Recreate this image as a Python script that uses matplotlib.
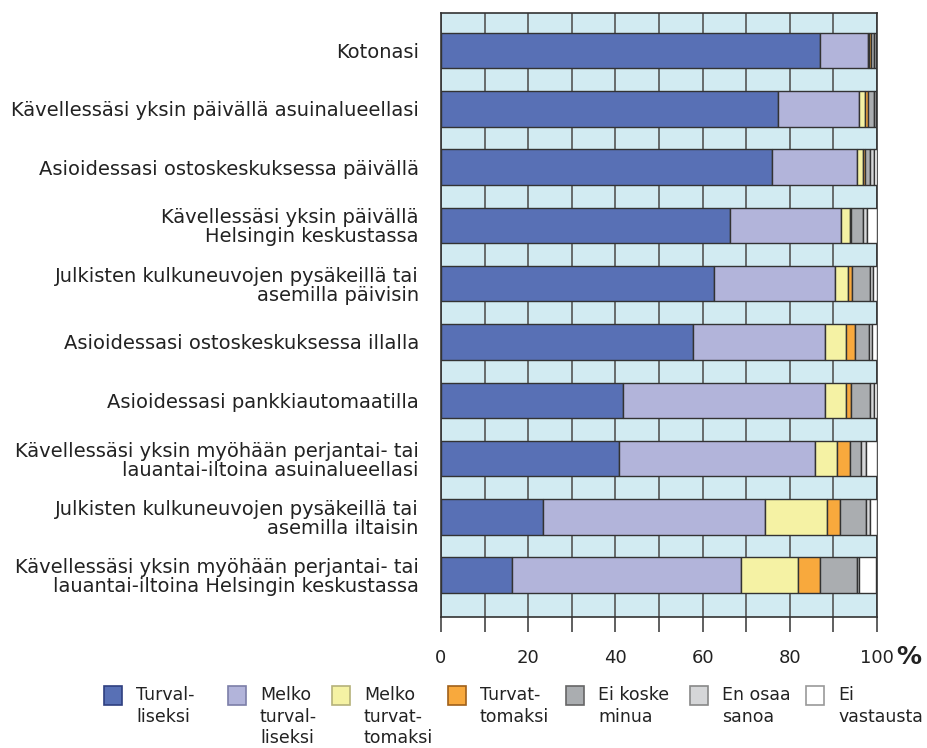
import numpy as np
from matplotlib import pyplot as plt
from matplotlib.patches import Rectangle

plt.rcParams['font.family'] = 'DejaVu Sans'
plt.rcParams['font.size'] = 12.5

categories = ["Kotonasi",
              "Kävellessäsi yksin päivällä asuinalueellasi",
              "Asioidessasi ostoskeskuksessa päivällä",
              "Kävellessäsi yksin päivällä\nHelsingin keskustassa",
              "Julkisten kulkuneuvojen pysäkeillä tai\nasemilla päivisin",
              "Asioidessasi ostoskeskuksessa illalla",
              "Asioidessasi pankkiautomaatilla",
              "Kävellessäsi yksin myöhään perjantai- tai\nlauantai-iltoina asuinalueellasi",
              "Julkisten kulkuneuvojen pysäkeillä tai\nasemilla iltaisin",
              "Kävellessäsi yksin myöhään perjantai- tai\nlauantai-iltoina Helsingin keskustassa"]

turvalliseksi       = [87.0, 77.3, 75.9, 66.3, 62.7, 57.8, 41.7, 40.8, 23.4, 16.2]
melko_turvalliseksi = [11.0, 18.5, 19.4, 25.5, 27.7, 30.3, 46.4, 45.0, 50.8, 52.5]
melko_turvattomaksi = [0.2, 1.4, 1.6, 1.9, 3.0, 4.7, 4.9, 5.1, 14.3, 13.1]
turvattomaksi       = [0.4, 0.7, 0.4, 0.3, 0.9, 2.2, 1.1, 2.8, 3.1, 5.1]
ei_koske            = [0.8, 1.3, 1.1, 2.9, 4.2, 3.1, 4.4, 2.6, 5.9, 8.4]
en_osaa             = [0.4, 0.5, 0.8, 0.7, 0.5, 0.7, 0.7, 1.2, 0.9, 0.6]
ei_vastausta        = [0.2, 0.3, 0.8, 2.4, 1.0, 1.2, 0.8, 2.5, 1.6, 3.9]

series_labels = ["Turval-\nliseksi", "Melko\nturval-\nliseksi", "Melko\nturvat-\ntomaksi",
                 "Turvat-\ntomaksi", "Ei koske\nminua", "En osaa\nsanoa", "Ei\nvastausta"]
colors = ['#5870b5', '#b2b4da', '#f5f2a4', '#f8a93d', '#aaadb0', '#d5d6d8', '#ffffff']
legend_edges = ['#2f3f80', '#7c7ea8', '#b5b27a', '#a0601a', '#666666', '#888888', '#999999']

x_ticks = list(range(0, 101, 10))
x_ticklabels = ['0', '', '20', '', '40', '', '60', '', '80', '', '100']

series = [turvalliseksi, melko_turvalliseksi, melko_turvattomaksi, turvattomaksi,
          ei_koske, en_osaa, ei_vastausta]

W, H = 927, 748
fig = plt.figure(figsize=(W/100, H/100), dpi=100)
ax = fig.add_axes([441/W, 1-617/H, (877-441)/W, (617-13)/H])
ax.set_facecolor('#d2ebf2')

y = np.arange(len(categories))
left = np.zeros(len(categories))
for vals, c in zip(series, colors):
    ax.barh(y, vals, left=left, height=0.61, color=c, edgecolor='#333333',
            linewidth=1.0, zorder=3)
    left += np.array(vals)

ax.set_xlim(0, 100)
ax.set_ylim(9.717, -0.643)
ax.set_xticks(x_ticks)
ax.set_xticklabels(x_ticklabels, color='#222222', fontsize=13)
ax.set_yticks(y)
ax.set_yticklabels(categories, color='#222222', fontsize=14, linespacing=1.0)
ax.tick_params(axis='y', length=0, pad=16)
ax.tick_params(axis='x', length=11, width=1.2, color='#444444', pad=12)
ax.grid(axis='x', color='#555555', linewidth=1.2, zorder=1)
ax.set_axisbelow(True)
for s in ax.spines.values():
    s.set_color('#333333')
    s.set_linewidth(1.2)

fig.text(909/W, 1-657/H, '%', ha='center', va='center', fontsize=18,
         fontweight='bold', color='#222222')

# legend drawn by hand so the multi-line labels hang from the top
leg_x = [104, 228, 332, 448, 566, 690, 806]
for lx, lab, c, ec in zip(leg_x, series_labels, colors, legend_edges):
    fig.add_artist(Rectangle((lx/W, 1-705/H), 18/W, 19/H, transform=fig.transFigure,
                             facecolor=c, edgecolor=ec, linewidth=1.2))
    fig.text((lx+32)/W, 1-686/H, lab, ha='left', va='top', color='#222222',
             fontsize=12.5, linespacing=1.25)

fig.savefig('out.png', dpi=100)
